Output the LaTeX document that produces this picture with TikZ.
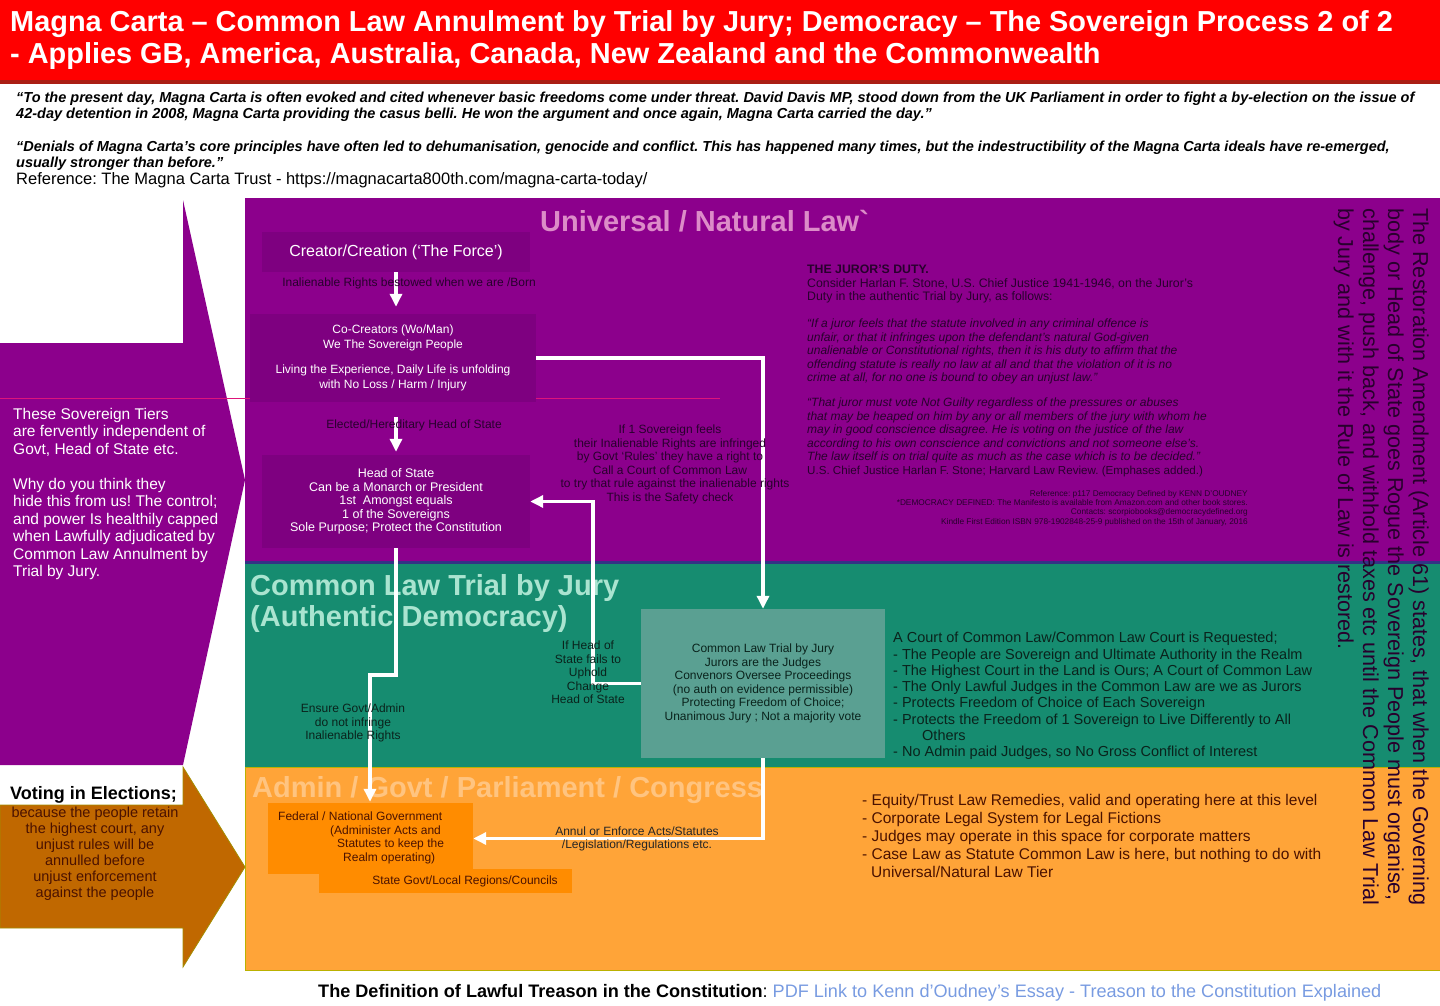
\documentclass[tikz,border=0pt]{standalone}
\usepackage{fontspec}
\setmainfont{Liberation Sans}
\usepackage{tikz}
\usetikzlibrary{arrows.meta, positioning}
\frenchspacing
\definecolor{titlered}{RGB}{255,0,0}
\definecolor{titleredline}{RGB}{170,30,20}
\definecolor{tierpurple}{RGB}{140,0,140}
\definecolor{boxpurple}{RGB}{126,0,128}
\definecolor{tierteal}{RGB}{22,140,112}
\definecolor{courtteal}{RGB}{90,160,146}
\definecolor{tierorange}{RGB}{255,164,56}
\definecolor{govorange}{RGB}{255,140,0}
\definecolor{arroworange}{RGB}{192,104,0}
\definecolor{purplehead}{RGB}{220,140,200}
\definecolor{tealhead}{RGB}{170,228,208}
\definecolor{orangehead}{RGB}{255,196,128}
\definecolor{purpletxt}{RGB}{40,0,45}
\definecolor{tealtxt}{RGB}{10,35,28}
\definecolor{orangetxt}{RGB}{75,18,0}
\definecolor{linkblue}{RGB}{120,155,225}
\newcommand{\fsz}[2]{\fontsize{#1}{#2}\selectfont}

\begin{document}
\begin{tikzpicture}[x=1pt,y=-1pt,
	txt/.style={inner sep=0,align=left},
	ctxt/.style={inner sep=0,align=center},
	tierhead/.style={inner sep=0,anchor=west,align=left,font=\bfseries\fsz{29}{31.5}},
	inbox/.style={fill=boxpurple,inner sep=0,text=white,align=center},
	warrow/.style={draw=white,line width=3.5pt,-{Triangle[width=12pt,length=13pt]}},
	plbl/.style={inner sep=0,align=center,text=purpletxt,font=\fsz{12}{13.5}},
	tlbl/.style={inner sep=0,align=center,text=tealtxt,font=\fsz{12}{13.5}}
]
	\useasboundingbox (0,0) rectangle (1440,1006);

	% title and quotes
	\fill[titlered] (0,0) rectangle (1440,80);
	\fill[titleredline] (0,80) rectangle (1440,84);
	\node[txt,anchor=north west,text=white,font=\bfseries\fsz{28.9}{32}] (title) at (10,10)
		{Magna Carta – Common Law Annulment by Trial by Jury; Democracy – The Sovereign Process 2 of 2\\
		- Applies GB, America, Australia, Canada, New Zealand and the Commonwealth};
	\node[txt,anchor=north west,font=\bfseries\itshape\fsz{14.5}{16}] (quote1) at (16,92)
		{“To the present day, Magna Carta is often evoked and cited whenever basic freedoms come under threat. David Davis MP, stood down from the UK Parliament in order to fight a by-election on the issue of\\
		42-day detention in 2008, Magna Carta providing the casus belli. He won the argument and once again, Magna Carta carried the day.”};
	\node[txt,anchor=north west,font=\bfseries\itshape\fsz{14.5}{16}] (quote2) at (16,141)
		{“Denials of Magna Carta’s core principles have often led to dehumanisation, genocide and conflict. This has happened many times, but the indestructibility of the Magna Carta ideals have re-emerged,\\
		usually stronger than before.”};
	\node[txt,anchor=west,font=\fsz{16.5}{18}] (trustref) at (16,180)
		{Reference: The Magna Carta Trust - https://magnacarta800th.com/magna-carta-today/};

	% tiers
	\fill[tierpurple] (245,198) rectangle (1440,563);
	\fill[tierteal] (245,563) rectangle (1440,767);
	\filldraw[fill=tierorange,draw=olive!60!yellow,line width=1pt] (245,767) rectangle (1440,970);
	\draw[blue!40!black!80,line width=3pt] (245,562) -- (1440,562);

	% side arrows
	\fill[tierpurple] (0,343) -- (183,343) -- (183,200) -- (245,480) -- (183,765) -- (0,765) -- cycle;
	\draw[magenta!70!purple,line width=1pt] (0,398) -- (720,398);
	\filldraw[fill=arroworange,draw=olive!80!orange,line width=0.8pt] (0,805) -- (183,805) -- (183,767)
		-- (245,867) -- (183,967) -- (183,928) -- (0,928) -- cycle;
	\node[txt,anchor=north west,text=white,font=\fsz{15.5}{17.5}] (tiersnote) at (13,408)
		{These Sovereign Tiers\\ are fervently independent of\\ Govt, Head of State etc.};
	\node[txt,anchor=north west,text=white,font=\fsz{15.5}{17.5}] (whynote) at (13,478)
		{Why do you think they\\ hide this from us! The control;\\ and power Is healthily capped\\
		when Lawfully adjudicated by\\ Common Law Annulment by\\ Trial by Jury.};
	\node[txt,anchor=west,font=\bfseries\fsz{18}{20}] (voting) at (10,795) {Voting in Elections;};
	\node[ctxt,anchor=north,text=orangetxt,font=\fsz{14.5}{16}] (votenote) at (95,807)
		{because the people retain\\ the highest court, any\\ unjust rules will be\\ annulled before\\
		unjust enforcement\\ against the people};

	% universal / natural law tier
	\node[tierhead,text=purplehead] (unihead) at (540,221) {Universal / Natural Law\textasciigrave};
	\node[inbox,minimum width=268,minimum height=40,font=\fsz{16}{18}] (creator) at (396,252)
		{Creator/Creation (‘The Force’)};
	\node[inbox,minimum width=286,minimum height=88,font=\fsz{12}{14.5}] (cocreators) at (393,358)
		{Co-Creators (Wo/Man)\\ We The Sovereign People\\[11pt]
		Living the Experience, Daily Life is unfolding\\ with No Loss / Harm / Injury};
	\node[inbox,minimum width=268,minimum height=93,font=\fsz{12.5}{13.5}] (headstate) at (396,501.5)
		{Head of State\\ Can be a Monarch or President\\ 1st\ \ Amongst equals\\ 1 of the Sovereigns\\
		Sole Purpose; Protect the Constitution};

	% common law tier
	\node[tierhead,anchor=north west,text=tealhead] (tealhead) at (250,574)
		{Common Law Trial by Jury\\ (Authentic Democracy)};
	\node[fill=courtteal,minimum width=244,minimum height=149,inner sep=0,align=center,
		text=tealtxt,font=\fsz{12}{13.5}] (court) at (763,683.5)
		{Common Law Trial by Jury\\ Jurors are the Judges\\ Convenors Oversee Proceedings\\
		(no auth on evidence permissible)\\ Protecting Freedom of Choice;\\ Unanimous Jury ; Not a majority vote};

	% admin tier
	\node[tierhead,text=orangehead] (orghead) at (252,790) {Admin / Govt / Parliament / Congress};
	\node[fill=govorange,minimum width=253,minimum height=24,inner sep=0] (stategov) at (445.5,881) {};
	\node[fill=govorange,minimum width=205,minimum height=71,inner sep=0] (fedgov) at (370.5,838.5) {};
	\node[ctxt,text=orangetxt,font=\fsz{12}{13.5}] (statetxt) at (465,881) {State Govt/Local Regions/Councils};
	\node[txt,anchor=north west,text=orangetxt,font=\fsz{12}{13.5}] (fedtxt) at (278,812)
		{Federal / National Government\\ \hspace*{52pt}(Administer Acts and\\ \hspace*{59pt}Statutes to keep the\\
		\hspace*{65pt}Realm operating)};

	% connectors
	\coordinate (jog) at (370,675);
	\draw[warrow] (creator.south) -- ([yshift=7pt]creator.south |- cocreators.north);
	\draw[warrow] ([yshift=-15pt]cocreators.south -| headstate.north) -- ([yshift=3pt]headstate.north);
	\draw[warrow] (cocreators.east) -| (court.north);
	\draw[warrow] (court.west) -- ++(-48,0) |- (headstate.east);
	\draw[warrow] (headstate.south) |- (jog) -- ([yshift=1pt]jog |- fedgov.north);
	\draw[warrow] (court.south) |- (fedgov.east);

	% labels on the connectors
	\node[plbl] (bornlbl) at (409,283) {Inalienable Rights bestowed when we are /Born};
	\node[plbl] (electlbl) at (414,425) {Elected/Hereditary Head of State};
	\node[plbl,anchor=north] (safetylbl) at (670,425)
		{If 1 Sovereign feels\\ their Inalienable Rights are infringed\\ by Govt ‘Rules’ they have a right to\\
		Call a Court of Common Law\\ \ \ \ to try that rule against the inalienable rights\\ This is the Safety check};
	\node[tlbl,anchor=north] (failslbl) at (588,641)
		{If Head of\\ State fails to\\ Uphold\\ Change\\ Head of State};
	\node[tlbl,anchor=north] (ensurelbl) at (353,704)
		{Ensure Govt/Admin\\ do not infringe\\ Inalienable Rights};
	\node[ctxt,text=black!85,font=\fsz{12}{13.5}] (annullbl) at (637,839)
		{Annul or Enforce Acts/Statutes\\ /Legislation/Regulations etc.};

	% juror's duty
	\node[txt,anchor=north west,text=purpletxt,font=\fsz{12.3}{13.5}] (jurorhead) at (807,265)
		{\textbf{THE JUROR’S DUTY.}\\ Consider Harlan F. Stone, U.S. Chief Justice 1941-1946, on the Juror’s\\
		Duty in the authentic Trial by Jury, as follows:};
	\node[txt,anchor=north west,text=purpletxt,font=\itshape\fsz{12}{13.5}] (jurorq1) at (807,319)
		{“If a juror feels that the statute involved in any criminal offence is\\
		unfair, or that it infringes upon the defendant’s natural God-given\\
		unalienable or Constitutional rights, then it is his duty to affirm that the\\
		offending statute is really no law at all and that the violation of it is no\\
		crime at all, for no one is bound to obey an unjust law.”};
	\node[txt,anchor=north west,text=purpletxt,font=\itshape\fsz{12}{13.5}] (jurorq2) at (807,398)
		{“That juror must vote Not Guilty regardless of the pressures or abuses\\
		that may be heaped on him by any or all members of the jury with whom he\\
		may in good conscience disagree. He is voting on the justice of the law\\
		according to his own conscience and convictions and not someone else’s.\\
		The law itself is on trial quite as much as the case which is to be decided.”\\
		\textup{\fsz{11.6}{13.5}U.S. Chief Justice Harlan F. Stone; Harvard Law Review. (Emphases added.)}};
	\node[inner sep=0,align=right,anchor=north east,text=purpletxt,font=\fsz{8.3}{9.3}] (bookref) at (1248,490)
		{Reference: p117 Democracy Defined by KENN D’OUDNEY\\
		*DEMOCRACY DEFINED: The Manifesto is available from Amazon.com and other book stores.\\
		Contacts: scorpiobooks@democracydefined.org\\
		Kindle First Edition ISBN 978-1902848-25-9 published on the 15th of January, 2016};

	% court lists
	\node[txt,anchor=north west,text=tealtxt,font=\fsz{14.5}{16.3}] (courtlist) at (893,632)
		{A Court of Common Law/Common Law Court is Requested;\\
		- The People are Sovereign and Ultimate Authority in the Realm\\
		- The Highest Court in the Land is Ours; A Court of Common Law\\
		- The Only Lawful Judges in the Common Law are we as Jurors\\
		- Protects Freedom of Choice of Each Sovereign\\
		- Protects the Freedom of 1 Sovereign to Live Differently to All\\
		\hspace*{29pt}Others\\
		- No Admin paid Judges, so No Gross Conflict of Interest};
	\node[txt,anchor=north west,text=orangetxt,font=\fsz{15.5}{18}] (adminlist) at (862,794)
		{- Equity/Trust Law Remedies, valid and operating here at this level\\
		- Corporate Legal System for Legal Fictions\\
		- Judges may operate in this space for corporate matters\\
		- Case Law as Statute Common Law is here, but nothing to do with\\
		\hspace*{9pt}Universal/Natural Law Tier};

	% restoration amendment
	\node[txt,anchor=north west,rotate=-90,text=purpletxt,font=\fsz{21.6}{25}] (restore) at (1429,208)
		{The Restoration Amendment (Article 61) states, that when the Governing\\
		body or Head of State goes Rogue the Sovereign People must organise,\\
		challenge, push back, and withhold taxes etc until the Common Law Trial\\
		by Jury and with it the Rule of Law is restored.};

	% footer
	\node[txt,anchor=west,font=\fsz{18.1}{19}] (footer) at (318,993)
		{\textbf{The Definition of Lawful Treason in the Constitution}: \textcolor{linkblue}{PDF Link to Kenn d'Oudney's Essay - Treason to the Constitution Explained}};
\end{tikzpicture}
\end{document}
